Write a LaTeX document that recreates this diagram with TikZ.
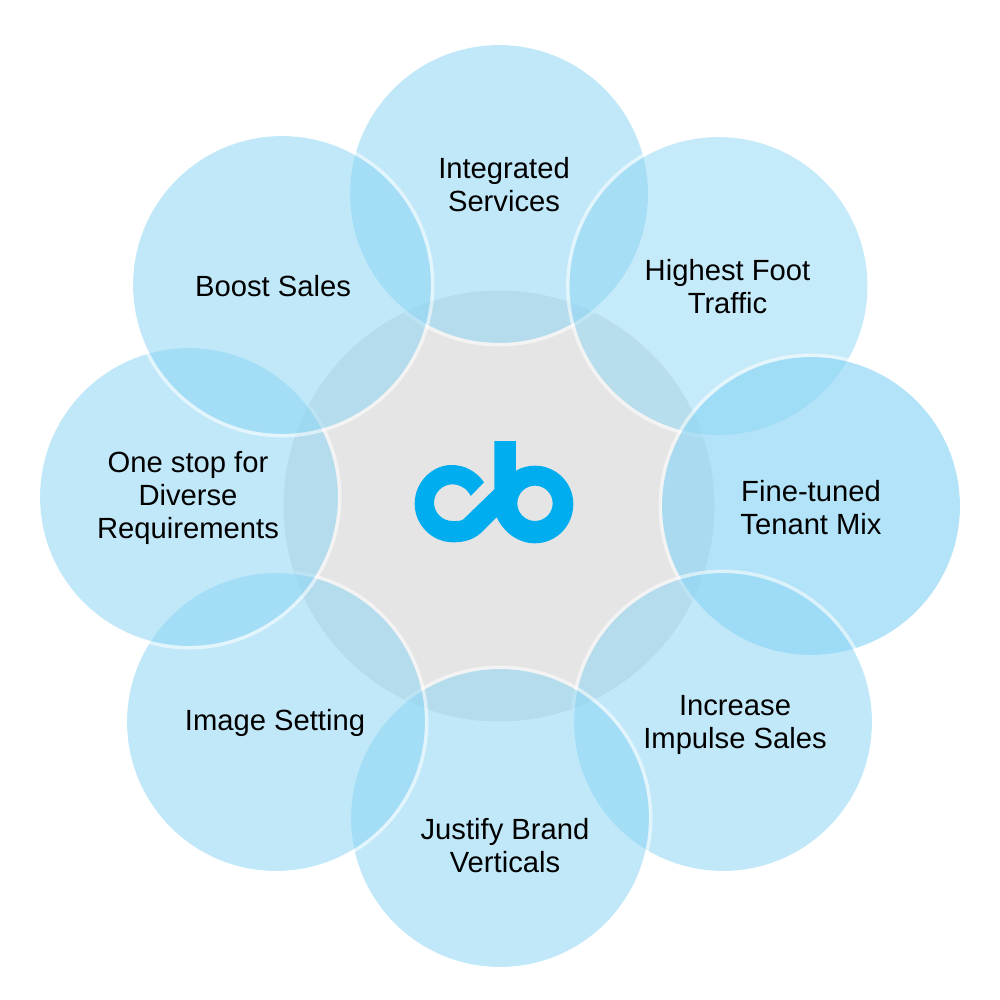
\documentclass[tikz,border=0pt]{standalone}
\usepackage{fontspec}
\setmainfont{Liberation Sans}
\definecolor{cbblue}{HTML}{00AEEF}
\definecolor{petalblue}{HTML}{8DD6F5}
\definecolor{hubgrey}{HTML}{E5E5E5}
\tikzset{
  petal/.style={circle,minimum size=298pt,inner sep=0pt,draw=none,
    fill=petalblue,fill opacity=#1},
  petal/.default=0.55,
  ring/.style={draw=white,draw opacity=0.55,line width=3.5pt},
  caption/.style={align=center,inner sep=0pt,text=black,font=\fontsize{29.2}{33}\selectfont},
  hub/.style={circle,minimum size=431pt,inner sep=0pt,fill=hubgrey}
}
\begin{document}
\begin{tikzpicture}[x=1pt,y=-1pt]
\path[use as bounding box,fill=white] (0,0) rectangle (1000,1000);
\node[hub] (center) at (499,506) {};
\node[petal] (integrated) at (499,194) {};
\draw[ring] (integrated.center) circle[radius=150.7];
\node[petal=0.50] (highest) at (718.5,286) {};
\draw[ring] (highest.center) circle[radius=150.7];
\node[petal=0.67] (fine) at (811,506) {};
\draw[ring] (fine.center) circle[radius=150.7];
\node[petal] (increase) at (723,722) {};
\draw[ring] (increase.center) circle[radius=150.7];
\node[petal] (justify) at (500,818) {};
\draw[ring] (justify.center) circle[radius=150.7];
\node[petal] (image) at (276,722) {};
\draw[ring] (image.center) circle[radius=150.7];
\node[petal] (onestop) at (189,497) {};
\draw[ring] (onestop.center) circle[radius=150.7];
\node[petal] (boost) at (282,285) {};
\draw[ring] (boost.center) circle[radius=150.7];
\node[caption] (tintegrated) at (504,185) {Integrated\\Services};
\node[caption] (thighest) at (727.5,287) {Highest Foot\\Traffic};
\node[caption] (tfine) at (811,508) {Fine-tuned\\Tenant Mix};
\node[caption] (tincrease) at (735,725) {Increase\\Impulse Sales};
\node[caption] (tjustify) at (505,846) {Justify Brand\\Verticals};
\node[caption] (timage) at (275,723) {Image Setting};
\node[caption] (tonestop) at (188,498) {One stop for\\Diverse\\Requirements};
\node[caption] (tboost) at (273,286) {Boost Sales};
\begin{scope}[shift={(400,430)},x=0.3333pt,y=-0.3333pt]
\fill[cbblue,even odd rule]
  (283,33) -- (348,33) -- (348,122)
  .. controls (365,112) and (385,107) .. (405,107)
  .. controls (468,107) and (520,158) .. (520,222)
  .. controls (520,288) and (468,340) .. (405,340)
  .. controls (355,340) and (312,308) .. (290,262)
  -- (250,302)
  .. controls (225,328) and (195,337) .. (160,337)
  .. controls (96,337) and (44,285) .. (44,221)
  .. controls (44,157) and (96,105) .. (155,105)
  .. controls (195,105) and (230,125) .. (252,157)
  -- (212,198)
  .. controls (202,176) and (180,163) .. (157,163)
  .. controls (127,163) and (102,188) .. (102,218)
  .. controls (102,248) and (127,273) .. (157,273)
  .. controls (170,273) and (182,274) .. (190,268)
  -- (283,178) -- cycle
  (405,220) circle[radius=53];
\end{scope}
\end{tikzpicture}
\end{document}
